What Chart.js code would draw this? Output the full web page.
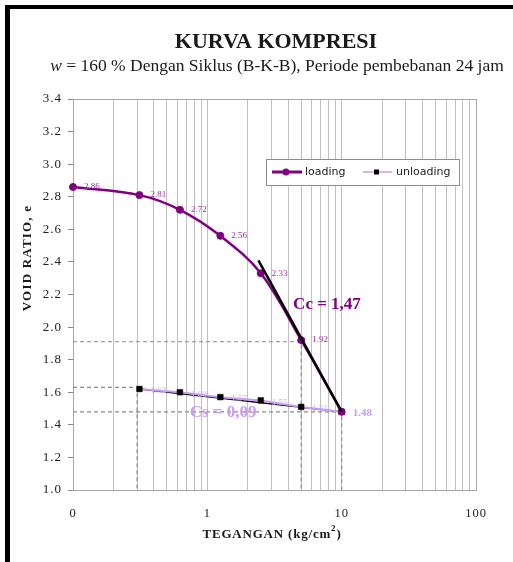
<!DOCTYPE html>
<html>
<head>
<meta charset="utf-8">
<script src="https://cdn.jsdelivr.net/npm/chart.js@4.4.1/dist/chart.umd.min.js"></script>
<style>
  html, body { margin: 0; padding: 0; background: #fff; }
</style>
</head>
<body>
<canvas id="chart" width="513" height="562"></canvas>
<script>
// data
const loadStress = [0.1, 0.3125, 0.625, 1.25, 2.5, 5, 10];
const loadVoid = [2.86, 2.81, 2.72, 2.56, 2.33, 1.92, 1.48];
const loadLabels = ['2.86', '2.81', '2.72', '2.56', '2.33', '1.92', '1.48'];

const unloadStress = [10, 5, 2.5, 1.25, 0.625, 0.3125];
const unloadVoid = [1.48, 1.51, 1.55, 1.57, 1.60, 1.62];
const unloadLabels = ['', '1.51', '1.55', '1.57', '1.60', '1.62'];

// Cc / Cs construction lines
const ccStress = [2.4, 10];
const ccVoid = [2.41, 1.48];
const csStress = [0.3125, 10];
const csVoid = [1.62, 1.48];

// dashed helper lines
const guideA = { x: [0.1, 5, 5], y: [1.91, 1.91, 1.0] };
const guideB = { x: [0.1, 0.3, 0.3], y: [1.63, 1.63, 1.0] };
const guideC = { x: [0.1, 10, 10], y: [1.48, 1.48, 1.0] };

// x axis ticks
const xDecades = [0.1, 1, 10];
const xMajorTicks = [0.1, 1, 10, 100];
const xMajorLabels = ['0', '1', '10', '100'];

const SERIF = "'Liberation Serif', 'Times New Roman', serif";
const PURPLE = '#800080';
const LILAC = '#c99cf2';

const pts = (xs, ys) => xs.map((x, i) => ({ x: x, y: ys[i] }));

const xGridTicks = [];
xDecades.forEach(d => {
  for (let k = 1; k <= 9; k++) xGridTicks.push(Number((d * k).toPrecision(3)));
});
xGridTicks.push(100);

const guide = (g) => ({
  label: 'guide',
  data: pts(g.x, g.y),
  borderColor: '#8c8c8c',
  borderWidth: 1.2,
  borderDash: [4, 3],
  pointRadius: 0,
  tension: 0,
  order: 9,
  clip: false,
});

const decor = {
  id: 'decor',
  beforeDraw(chart) {
    const ctx = chart.ctx;
    ctx.save();
    ctx.fillStyle = '#fff';
    ctx.fillRect(0, 0, chart.width, chart.height);
    // outer frame (top and left visible)
    ctx.fillStyle = '#000';
    ctx.fillRect(5, 5, chart.width - 5, 4);
    ctx.fillRect(5, 5, 5, chart.height - 5);

    // titles
    ctx.fillStyle = '#1a1a1a';
    ctx.textAlign = 'center';
    ctx.textBaseline = 'alphabetic';
    ctx.font = 'bold 22px ' + SERIF;
    ctx.fillText('KURVA KOMPRESI', 276, 48);

    const rest = ' = 160 % Dengan Siklus (B-K-B), Periode pembebanan 24 jam';
    ctx.font = 'italic 17.5px ' + SERIF;
    const wW = ctx.measureText('w').width;
    ctx.font = '17.5px ' + SERIF;
    const rW = ctx.measureText(rest).width;
    let x0 = 277 - (wW + rW) / 2;
    ctx.textAlign = 'left';
    ctx.font = 'italic 17.5px ' + SERIF;
    ctx.fillText('w', x0, 71);
    ctx.font = '17.5px ' + SERIF;
    ctx.fillText(rest, x0 + wW, 71);

    // axis titles
    ctx.font = 'bold 13px ' + SERIF;
    ctx.letterSpacing = '1.2px';
    ctx.save();
    ctx.translate(31, 258);
    ctx.rotate(-Math.PI / 2);
    ctx.textAlign = 'center';
    ctx.fillText('VOID RATIO, e', 0, 0);
    ctx.restore();

    ctx.letterSpacing = '0.8px';
    const t1 = 'TEGANGAN (kg/cm';
    const t1w = ctx.measureText(t1).width;
    ctx.font = 'bold 9px ' + SERIF;
    const sw = ctx.measureText('2').width;
    ctx.font = 'bold 13px ' + SERIF;
    const t3w = ctx.measureText(')').width;
    let tx = 272 - (t1w + sw + t3w) / 2;
    ctx.textAlign = 'left';
    ctx.fillText(t1, tx, 538);
    ctx.font = 'bold 9px ' + SERIF;
    ctx.fillText('2', tx + t1w, 531);
    ctx.font = 'bold 13px ' + SERIF;
    ctx.fillText(')', tx + t1w + sw, 538);
    ctx.restore();
    // wider spacing for the axis tick labels drawn next
    ctx.letterSpacing = '1px';
  },
  beforeDatasetsDraw(chart) {
    const { ctx, chartArea: a } = chart;
    ctx.save();
    ctx.strokeStyle = '#a8a8a8';
    ctx.lineWidth = 1;
    ctx.strokeRect(a.left + 0.5, a.top + 0.5, a.right - a.left, a.bottom - a.top);
    ctx.restore();
  },
  afterDatasetsDraw(chart) {
    const ctx = chart.ctx;
    const xs = chart.scales.x, ys = chart.scales.y;
    ctx.save();
    ctx.letterSpacing = '0px';
    ctx.textBaseline = 'middle';
    ctx.textAlign = 'left';

    // point value labels
    chart.data.datasets.forEach((ds, di) => {
      if (!ds.valueLabels) return;
      const meta = chart.getDatasetMeta(di);
      meta.data.forEach((p, i) => {
        const txt = ds.valueLabels[i];
        if (!txt) return;
        if (ds.label === 'loading' && i === ds.valueLabels.length - 1) {
          ctx.font = 'bold 11px ' + SERIF;
          ctx.fillStyle = LILAC;
          ctx.fillText(txt, p.x + 11, p.y + 1);
        } else {
          ctx.font = '9px ' + SERIF;
          ctx.fillStyle = ds.label === 'loading' ? '#993399' : '#d2b0f5';
          ctx.fillText(txt, p.x + 11, p.y + (ds.label === 'loading' ? 0 : 2));
        }
      });
    });

    // Cc / Cs annotations
    ctx.font = 'bold 17px ' + SERIF;
    ctx.fillStyle = PURPLE;
    ctx.fillText('Cc = 1,47', xs.getPixelForValue(4.35), ys.getPixelForValue(2.14));
    ctx.fillStyle = LILAC;
    ctx.textAlign = 'center';
    ctx.fillText('Cs = 0,09', xs.getPixelForValue(1.31), ys.getPixelForValue(1.475));

    // legend box
    const lx = 266, ly = 159, lw = 193, lh = 26;
    ctx.fillStyle = '#fff';
    ctx.fillRect(lx, ly, lw, lh);
    ctx.strokeStyle = '#8c8c8c';
    ctx.lineWidth = 1;
    ctx.strokeRect(lx + 0.5, ly + 0.5, lw, lh);
    const my = ly + 13;
    ctx.strokeStyle = PURPLE;
    ctx.lineWidth = 3;
    ctx.beginPath(); ctx.moveTo(272, my); ctx.lineTo(302, my); ctx.stroke();
    ctx.fillStyle = PURPLE;
    ctx.beginPath(); ctx.arc(286, my, 3.5, 0, Math.PI * 2); ctx.fill();
    ctx.strokeStyle = LILAC;
    ctx.lineWidth = 1.5;
    ctx.beginPath(); ctx.moveTo(363, my); ctx.lineTo(392, my); ctx.stroke();
    ctx.fillStyle = '#000';
    ctx.fillRect(374, my - 2.5, 5, 5);
    ctx.font = "11px 'DejaVu Sans', sans-serif";
    ctx.fillStyle = '#222';
    ctx.textAlign = 'left';
    ctx.fillText('loading', 305, my);
    ctx.fillText('unloading', 396, my);
    ctx.restore();
  }
};

new Chart(document.getElementById('chart'), {
  type: 'line',
  data: {
    datasets: [
      {
        label: 'loading',
        data: pts(loadStress, loadVoid),
        valueLabels: loadLabels,
        borderColor: PURPLE,
        backgroundColor: PURPLE,
        borderWidth: 2.5,
        pointRadius: 3.5,
        pointBorderWidth: 1,
        pointStyle: 'circle',
        tension: 0.35,
        order: 2,
        clip: false,
      },
      {
        label: 'Cc',
        data: pts(ccStress, ccVoid),
        borderColor: '#000',
        borderWidth: 2.5,
        pointRadius: 0,
        order: 1,
        clip: false,
      },
      {
        label: 'unloading',
        data: pts(unloadStress, unloadVoid),
        valueLabels: unloadLabels,
        borderColor: LILAC,
        backgroundColor: '#000',
        borderWidth: 2,
        pointRadius: 4,
        pointBorderWidth: 0.5,
        pointStyle: 'rect',
        pointBorderColor: '#000',
        tension: 0,
        order: 3,
        clip: false,
      },
      {
        label: 'Cs',
        data: pts(csStress, csVoid),
        borderColor: '#000',
        borderWidth: 1.3,
        pointRadius: 0,
        order: 4,
        clip: false,
      },
      guide(guideA),
      guide(guideB),
      guide(guideC),
    ]
  },
  options: {
    responsive: false,
    animation: false,
    layout: { padding: { left: 0, right: 37, top: 99, bottom: 0 } },
    plugins: {
      legend: { display: false },
      tooltip: { enabled: false },
      title: { display: false },
    },
    scales: {
      x: {
        type: 'logarithmic',
        min: 0.1,
        max: 100,
        afterBuildTicks: (scale) => {
          scale.ticks = xGridTicks.map(v => ({ value: v }));
        },
        afterFit: (scale) => { scale.height = 72; },
        ticks: {
          autoSkip: false,
          maxRotation: 0,
          padding: 16,
          color: '#222',
          font: { family: SERIF, size: 12.5 },
          callback: (v) => {
            const i = xMajorTicks.findIndex(t => Math.abs(t - v) < 1e-9);
            return i >= 0 ? xMajorLabels[i] : '';
          }
        },
        grid: { color: '#c0c0c0', lineWidth: 1, drawTicks: false },
        border: { color: '#a8a8a8' },
      },
      y: {
        min: 1.0,
        max: 3.4,
        afterFit: (scale) => { scale.width = 73; },
        ticks: {
          stepSize: 0.2,
          padding: 6,
          color: '#222',
          font: { family: SERIF, size: 13 },
          callback: (v) => Number(v).toFixed(1),
        },
        grid: { drawOnChartArea: false, drawTicks: true, tickLength: 5, color: '#888' },
        border: { color: '#a8a8a8' },
      }
    }
  },
  plugins: [decor]
});
</script>
</body>
</html>
